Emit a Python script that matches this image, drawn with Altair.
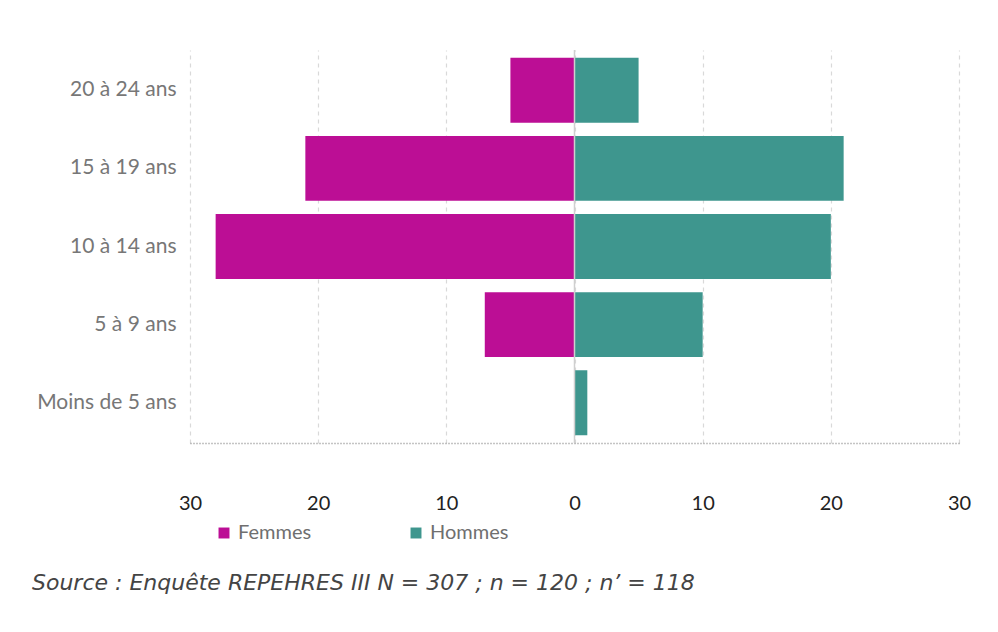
import altair as alt
import pandas as pd

ages = ["20 à 24 ans", "15 à 19 ans", "10 à 14 ans", "5 à 9 ans", "Moins de 5 ans"]
femmes = [5, 21, 28, 7, 0]
hommes = [5, 21, 20, 10, 1]
sexes = ["Femmes", "Hommes"]
colors = ["#BC0E95", "#3E968E"]
x_ticks = [-30, -20, -10, 0, 10, 20, 30]

rows = []
for a, f, h in zip(ages, femmes, hommes):
    rows.append({"age": a, "sexe": "Femmes", "valeur": -f})
    rows.append({"age": a, "sexe": "Hommes", "valeur": h})
df = pd.DataFrame(rows)

x_enc = alt.X(
    "valeur:Q",
    scale=alt.Scale(domain=[-30, 30], nice=False, zero=False),
    axis=alt.Axis(
        values=x_ticks,
        labelExpr="abs(datum.value)",
        title=None,
        grid=True,
        gridDash=[4, 4],
        gridColor="#d9d9d9",
        gridWidth=1.2,
        ticks=False,
        domain=True,
        domainColor="#8a8a8a",
        domainDash=[1, 2],
        domainWidth=1.5,
        labelFont="Lato",
        labelFontSize=20,
        labelColor="#222222",
        labelPadding=50,
        labelFlush=False,
        labelBound=False,
        labelOverlap=False,
    ),
)

y_enc = alt.Y(
    "age:N",
    sort=ages,
    scale=alt.Scale(paddingInner=0.17, paddingOuter=0.1),
    axis=alt.Axis(
        title=None,
        ticks=False,
        domain=False,
        grid=False,
        labelFont="Lato",
        labelFontSize=21,
        labelColor="#777777",
        labelPadding=14,
    ),
)

bars = alt.Chart(df).mark_bar().encode(
    x=x_enc,
    y=y_enc,
    color=alt.Color(
        "sexe:N",
        scale=alt.Scale(domain=sexes, range=colors),
        legend=alt.Legend(
            title=None,
            orient="none",
            direction="horizontal",
            legendX=24,
            legendY=473,
            symbolType="square",
            symbolSize=120,
            symbolStrokeWidth=0,
            symbolOpacity=1,
            labelFont="Lato",
            labelFontSize=20,
            labelColor="#6f6f6f",
            labelOffset=4,
            columnPadding=94,
        ),
    ),
)

zero = alt.Chart(pd.DataFrame({"z": [0]})).mark_rule(color="#cfcfcf", strokeWidth=1.5).encode(
    x="z:Q"
)

chart = (
    alt.layer(bars, zero)
    .properties(
        width=769,
        height=393,
        background="white",
        autosize=alt.AutoSizeParams(type="none"),
        padding={"left": 182, "top": 42, "right": 23, "bottom": 181},
        title=alt.Title(
            "Source : Enquête REPEHRES III N = 307 ; n = 120 ; n’ = 118",
            orient="bottom",
            anchor="start",
            frame="group",
            dx=-158,
            offset=30,
            font="DejaVu Sans",
            fontSize=22,
            fontStyle="italic",
            fontWeight=200,
            color="#444444",
        ),
    )
    .configure_view(stroke="transparent", strokeWidth=0)
)

chart.save("out.html", embed_options={"renderer": "svg", "actions": False})
